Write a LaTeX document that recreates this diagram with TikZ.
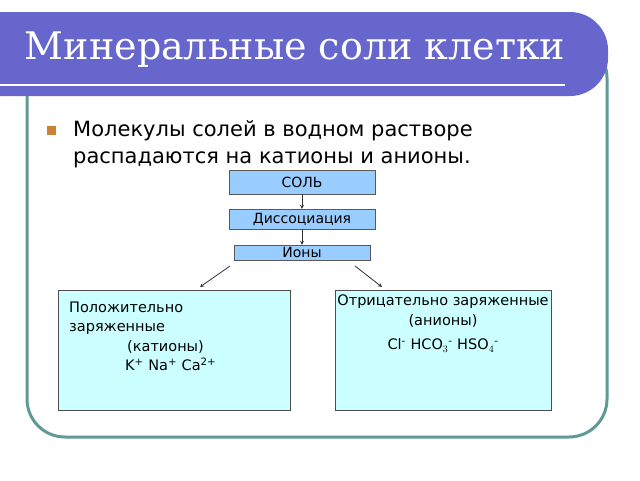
\documentclass[tikz,border=0pt]{standalone}
\usepackage{fontspec}
\setmainfont{DejaVu Sans}
\newfontfamily\titlefont{DejaVu Serif}
\begin{document}
\begin{tikzpicture}[x=1pt,y=-1pt,
  top/.style={draw=gray!70!black,minimum height=#1,inner sep=0pt,font=\fontsize{14}{16}\selectfont},
  big/.style={draw=gray!60!black,fill=bx,inner sep=0pt},
  arr/.style={-stealth,line width=0.8pt,black!80}]
\useasboundingbox (0,0) rectangle (640,480);
\definecolor{ban}{HTML}{6666CC}\definecolor{fr}{HTML}{5F9A96}\definecolor{tb}{HTML}{99CCFF}\definecolor{bx}{HTML}{CCFFFF}
\draw[fr,line width=3pt,rounded corners=38pt] (27,40) rectangle (607,437);
\fill[ban,rounded corners=38pt] (-40,12) rectangle (608,96);
\fill[ban] (-1,12) rectangle (100,96);
\draw[white,line width=1.5pt] (0,85) -- (565,85);
\node[white,font=\titlefont\fontsize{38}{44}\selectfont] (t) at (295,50) {Минеральные соли клетки};
\fill[brown!80!orange] (47,126) rectangle (56,135);
\node[anchor=west,align=left,font=\fontsize{21}{27}\selectfont,inner sep=0pt] (b) at (73,144) {Молекулы солей в водном растворе\\распадаются на катионы и анионы.};
\node[top=24pt,fill=tb,minimum width=146pt] (s) at (302,182) {СОЛЬ};
\node[top=20pt,fill=tb,minimum width=146pt] (d) at (302,219) {Диссоциация};
\node[top=15pt,fill=tb,minimum width=136pt] (i) at (302,252.5) {Ионы};
\draw[arr] (s) -- (d);
\draw[arr] (d) -- (i);
\node[big,minimum width=232pt,minimum height=120pt] (l) at (174,350) {};
\node[big,minimum width=216pt,minimum height=120pt] (r) at (443,350) {};
\coordinate (la) at (230,266); \coordinate (ra) at (355,266);
\draw[arr] (la) -- (200,287);
\draw[arr] (ra) -- (382,287);
\node[anchor=north west,align=left,inner sep=0pt,font=\fontsize{14.5}{18.5}\selectfont] (lt) at (69,302) {Положительно\\заряженные\\[2pt]\hspace*{58pt}(катионы)\\\hspace*{56pt}K\textsuperscript{+} Na\textsuperscript{+} Ca\textsuperscript{2+}};
\node[anchor=north,align=center,inner sep=0pt,font=\fontsize{14.5}{20}\selectfont] (rt) at (443,295) {Отрицательно заряженные\\(анионы)\\[4pt]Cl\textsuperscript{-} HCO$_3$\textsuperscript{-} HSO$_4$\textsuperscript{-}};
\end{tikzpicture}
\end{document}
